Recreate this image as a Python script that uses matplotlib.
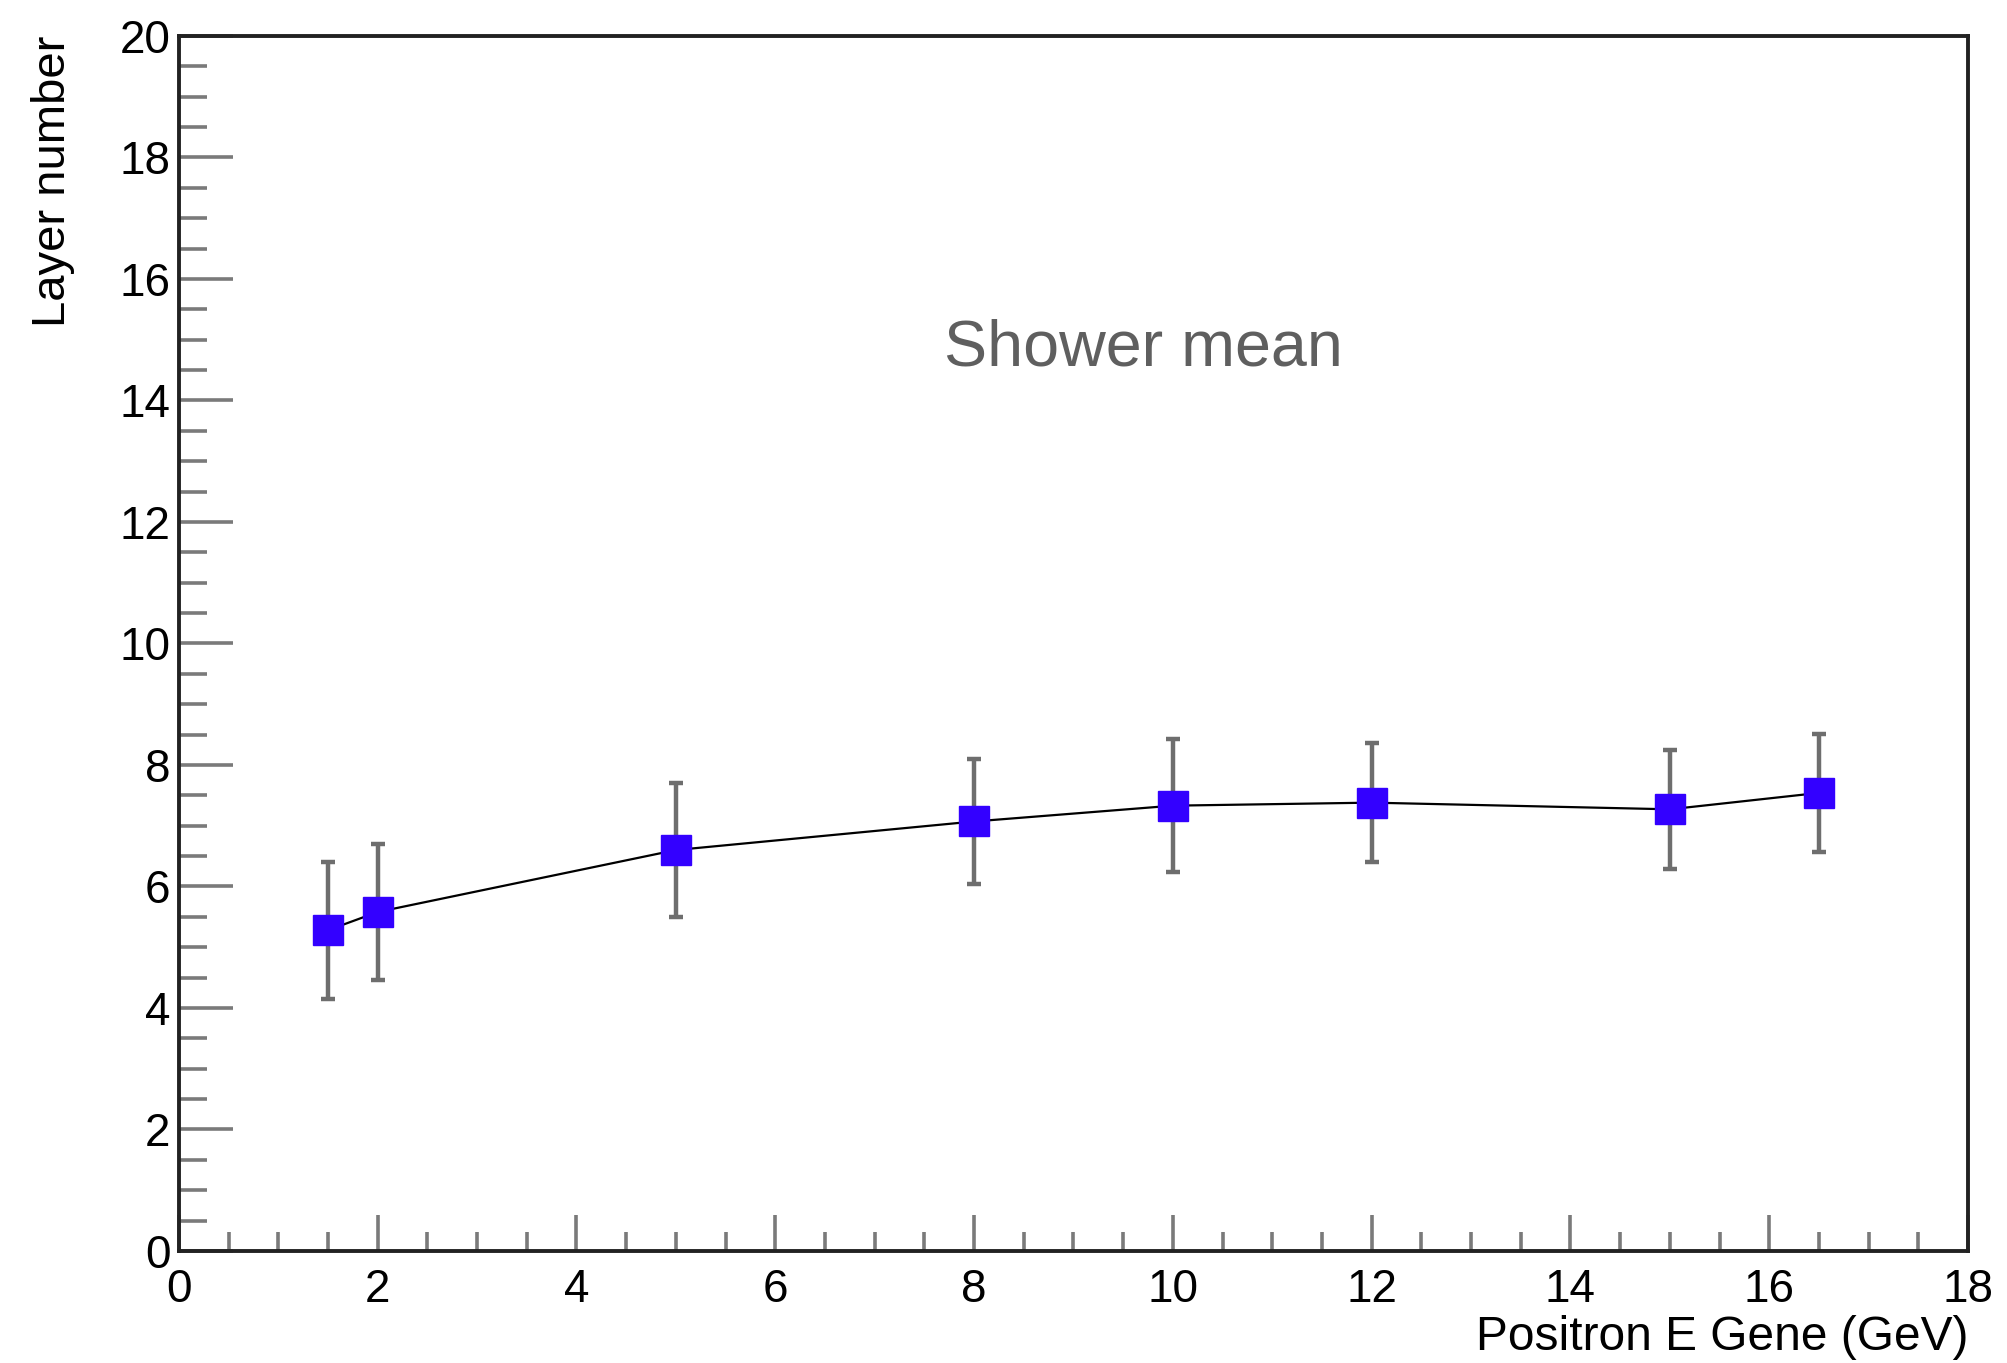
import numpy as np
import matplotlib
matplotlib.use('Agg')
import matplotlib.pyplot as plt
from matplotlib.ticker import MultipleLocator

plt.rcParams['font.family'] = ['Liberation Sans', 'DejaVu Sans']

# shower mean vs generated positron energy
energy = [1.5, 2, 5, 8, 10, 12, 15, 16.5]
shower_mean = [5.28, 5.58, 6.60, 7.07, 7.33, 7.38, 7.27, 7.54]
shower_err = [1.13, 1.12, 1.10, 1.03, 1.10, 0.98, 0.98, 0.97]

fig = plt.figure(figsize=(20.08, 13.63), dpi=100)
ax = fig.add_axes([0.0891, 0.0822, 0.8910, 0.8914])

ax.plot(energy, shower_mean, color='black', lw=1.6, zorder=2)
ax.errorbar(energy, shower_mean, yerr=shower_err, fmt='none', ecolor='#6e6e6e',
            elinewidth=3.2, capsize=5, capthick=3.2, zorder=3)
ax.plot(energy, shower_mean, ls='none', marker='s', ms=21.5, color='#3300ff',
        mec='#3300ff', zorder=4)

ax.set_xlim(0, 18)
ax.set_ylim(0, 20)
ax.xaxis.set_major_locator(MultipleLocator(2))
ax.xaxis.set_minor_locator(MultipleLocator(0.5))
ax.yaxis.set_major_locator(MultipleLocator(2))
ax.yaxis.set_minor_locator(MultipleLocator(0.5))

for s in ax.spines.values():
    s.set_linewidth(2.8)
    s.set_color('#222222')

ax.tick_params(axis='both', which='both', direction='in', color='#7a7a7a',
               width=2.6, labelsize=33, top=False, right=False)
ax.tick_params(axis='x', which='major', length=26, pad=12)
ax.tick_params(axis='x', which='minor', length=14)
ax.tick_params(axis='y', which='major', length=39, pad=6)
ax.tick_params(axis='y', which='minor', length=20)

ax.set_xlabel('Positron E Gene (GeV)', fontsize=34.5, loc='right')
ax.xaxis.set_label_coords(1.0, -0.053)
ax.xaxis.label.set_va('top')
ax.set_ylabel('Layer number', fontsize=34, loc='top')
ax.yaxis.set_label_coords(-0.058, 1.0)

ax.text(9.7, 14.86, 'Shower mean', fontsize=46.5, color='#5f5f5f',
        ha='center', va='center')

fig.savefig('out.png', dpi=100)
